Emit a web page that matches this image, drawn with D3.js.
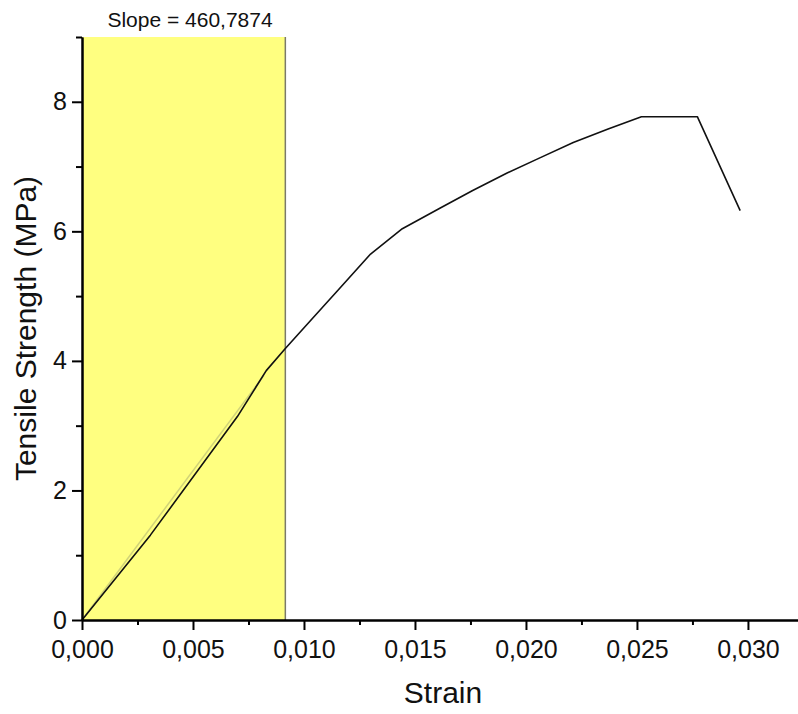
<!DOCTYPE html>
<html>
<head>
<meta charset="utf-8">
<script src="https://cdn.jsdelivr.net/npm/d3@7"></script>
<style>
  body { margin: 0; background: #fff; }
  svg { display: block; font-family: "Liberation Sans", Arial, sans-serif; }
</style>
</head>
<body>
<div id="chart"></div>
<script>
// Stress-strain curve with linear fit region

// Data
var strain = [0, 0.00308, 0.0070, 0.0083, 0.00916, 0.01042, 0.0115, 0.0130, 0.01443, 0.01614, 0.0176, 0.01915, 0.0206, 0.02213, 0.0237, 0.02520, 0.02772, 0.02965];
var stress = [0, 1.31, 3.14, 3.85, 4.19, 4.67, 5.08, 5.65, 6.04, 6.36, 6.63, 6.90, 7.13, 7.37, 7.58, 7.77, 7.77, 6.32];

var fitSlope = 460.7874;
var fitRange = [0, 0.00916];   // yellow fit window
var fitLineEnd = 0.0082;
var slopeLabel = "Slope = 460,7874";

var xMajor = [0, 0.005, 0.010, 0.015, 0.020, 0.025, 0.030];
var xMinor = [0.0025, 0.0075, 0.0125, 0.0175, 0.0225, 0.0275, 0.0325];
var yMajor = [0, 2, 4, 6, 8];
var yMinor = [1, 3, 5, 7, 9];

var xDomain = [0, 0.0323];
var yDomain = [0, 9];

var xTitle = "Strain";
var yTitle = "Tensile Strength (MPa)";

// Sizes
var svgWidth = 798;
var svgHeight = 714;

var chartMargin = { top: 37, left: 82, bottom: 94, right: 0 };

var chartWidth = svgWidth - chartMargin.left - chartMargin.right;
var chartHeight = svgHeight - chartMargin.top - chartMargin.bottom;

var svg = d3.select("#chart")
	.append("svg")
	.attr("width", svgWidth)
	.attr("height", svgHeight);

var chartGroup = svg.append("g")
	.attr("transform", `translate(${chartMargin.left}, ${chartMargin.top})`);

var xScale = d3.scaleLinear().domain(xDomain).range([0, chartWidth + 1]);
var yScale = d3.scaleLinear().domain(yDomain).range([chartHeight, 0]);

// comma decimal
var locale = d3.formatLocale({ decimal: ",", thousands: ".", grouping: [3], currency: ["", ""] });
var fmtX = locale.format(".3f");

// Yellow fit window
chartGroup.append("rect")
	.attr("x", xScale(fitRange[0]))
	.attr("y", yScale(yDomain[1]))
	.attr("width", xScale(fitRange[1]) - xScale(fitRange[0]))
	.attr("height", yScale(0) - yScale(yDomain[1]))
	.attr("fill", "#ffff80");

chartGroup.append("line")
	.attr("x1", xScale(fitRange[1]))
	.attr("x2", xScale(fitRange[1]))
	.attr("y1", yScale(yDomain[1]))
	.attr("y2", yScale(0))
	.attr("stroke", "#7a7a6a")
	.attr("stroke-width", 1.5);

// Fit line (faint)
chartGroup.append("line")
	.attr("x1", xScale(0))
	.attr("y1", yScale(0))
	.attr("x2", xScale(fitLineEnd))
	.attr("y2", yScale(fitSlope * fitLineEnd))
	.attr("stroke", "#9aa070")
	.attr("stroke-width", 1.5)
	.attr("opacity", 0.45);

// Curve
var points = strain.map((s, i) => [s, stress[i]]);

var line = d3.line()
	.x(d => xScale(d[0]))
	.y(d => yScale(d[1]));

chartGroup.append("path")
	.datum(points)
	.attr("d", line)
	.attr("fill", "none")
	.attr("stroke", "#111")
	.attr("stroke-width", 1.6)
	.attr("stroke-linejoin", "round");

// Axes
var xAxis = d3.axisBottom(xScale)
	.tickValues(xMajor)
	.tickFormat(fmtX)
	.tickSize(10)
	.tickSizeOuter(0)
	.tickPadding(10);

var xAxisMinor = d3.axisBottom(xScale)
	.tickValues(xMinor)
	.tickFormat("")
	.tickSize(5)
	.tickSizeOuter(0);

var yAxis = d3.axisLeft(yScale)
	.tickValues(yMajor)
	.tickFormat(d3.format("d"))
	.tickSize(10)
	.tickSizeOuter(0)
	.tickPadding(5);

var yAxisMinor = d3.axisLeft(yScale)
	.tickValues(yMinor)
	.tickFormat("")
	.tickSize(6)
	.tickSizeOuter(0);

function styleAxis(g) {
	g.select(".domain").attr("stroke", "#000").attr("stroke-width", 2);
	g.selectAll(".tick line").attr("stroke", "#000").attr("stroke-width", 2);
	g.selectAll(".tick text")
		.attr("fill", "#111")
		.attr("font-size", "25px")
		.attr("font-family", "Liberation Sans, Arial, sans-serif");
}

chartGroup.append("g")
	.attr("transform", `translate(0, ${chartHeight})`)
	.call(xAxisMinor)
	.call(styleAxis);

chartGroup.append("g")
	.attr("transform", `translate(0, ${chartHeight})`)
	.call(xAxis)
	.call(styleAxis);

chartGroup.append("g")
	.call(yAxisMinor)
	.call(styleAxis);

chartGroup.append("g")
	.call(yAxis)
	.call(styleAxis);

// Titles
chartGroup.append("text")
	.attr("x", chartWidth / 2 + 3)
	.attr("y", chartHeight + 83)
	.attr("text-anchor", "middle")
	.attr("font-size", "30px")
	.attr("fill", "#111")
	.text(xTitle);

chartGroup.append("text")
	.attr("transform", `translate(-46, ${chartHeight / 2})rotate(-90)`)
	.attr("text-anchor", "middle")
	.attr("font-size", "30px")
	.attr("fill", "#111")
	.text(yTitle);

svg.append("text")
	.attr("x", 190)
	.attr("y", 27)
	.attr("text-anchor", "middle")
	.attr("font-size", "21px")
	.attr("fill", "#111")
	.text(slopeLabel);
</script>
</body>
</html>
